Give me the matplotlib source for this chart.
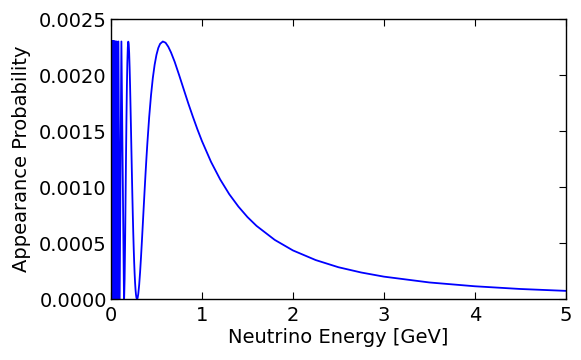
import matplotlib
matplotlib.use('Agg')
import matplotlib.pyplot as plt
from matplotlib.ticker import FormatStrFormatter

# fast oscillations near zero energy (peaks and zeros)
energy_low = [0.0146, 0.0151, 0.0153, 0.0159, 0.0162, 0.0169, 0.0172, 0.0179,
              0.0184, 0.0191, 0.0197, 0.0205, 0.0212, 0.0220, 0.0229, 0.0239,
              0.0249, 0.0260, 0.0273, 0.0286, 0.0302, 0.0318, 0.0337, 0.0358,
              0.0382, 0.0409, 0.0441, 0.0477, 0.0521, 0.0573, 0.0637, 0.0716,
              0.0819, 0.0955, 0.1146, 0.1432]
prob_low = [0.0023, 0.0, 0.0023, 0.0, 0.0023, 0.0, 0.0023, 0.0,
            0.0023, 0.0, 0.0023, 0.0, 0.0023, 0.0, 0.0023, 0.0,
            0.0023, 0.0, 0.0023, 0.0, 0.0023, 0.0, 0.0023, 0.0,
            0.0023, 0.0, 0.0023, 0.0, 0.0023, 0.0, 0.0023, 0.0,
            0.0023, 0.0, 0.0023, 0.0]

# second lobe
energy_mid = [0.145, 0.150, 0.155, 0.160, 0.165, 0.170, 0.175, 0.180, 0.185,
              0.190, 0.195, 0.200, 0.205, 0.210, 0.215, 0.220, 0.225, 0.230,
              0.235, 0.240, 0.245, 0.250, 0.255, 0.260, 0.265, 0.270, 0.275,
              0.280, 0.2865]
prob_mid = [0.0000134, 0.00018, 0.000484, 0.000861, 0.00125, 0.00160, 0.00190,
            0.00211, 0.002247, 0.0022986, 0.002278, 0.002198, 0.002069,
            0.001906, 0.001718, 0.00152, 0.001317, 0.001118, 0.000928,
            0.000751, 0.000592, 0.00045, 0.000329, 0.000228, 0.000146,
            0.0000835, 0.0000393, 0.0000121, 0.0]

# main peak and tail
energy_high = [0.293, 0.30, 0.31, 0.32, 0.33, 0.34, 0.35, 0.36, 0.37, 0.38,
               0.39, 0.40, 0.42, 0.44, 0.46, 0.48, 0.50, 0.52, 0.54, 0.57,
               0.60, 0.63, 0.66, 0.70, 0.75, 0.80, 0.85, 0.90, 0.95, 1.00,
               1.10, 1.20, 1.30, 1.40, 1.50, 1.60, 1.80, 2.00, 2.25, 2.50,
               2.75, 3.00, 3.50, 4.00, 4.50, 5.00]
prob_high = [0.0000112, 0.0000458, 0.000128, 0.00024, 0.000373, 0.000518,
             0.00067, 0.000824, 0.000975, 0.001122, 0.001262, 0.001392,
             0.001626, 0.001819, 0.001974, 0.002093, 0.002181, 0.002242,
             0.002279, 0.0023, 0.002289, 0.002253, 0.002202, 0.002119,
             0.001998, 0.001872, 0.001747, 0.001629, 0.001516, 0.001411,
             0.001225, 0.001069, 0.000937, 0.000827, 0.000733, 0.000654,
             0.000529, 0.000435, 0.000349, 0.000285, 0.000238, 0.000201,
             0.000149, 0.000115, 0.0000908, 0.000074]

energy = energy_low + energy_mid + energy_high
prob = prob_low + prob_mid + prob_high

fig = plt.figure(figsize=(5.81, 3.6), dpi=100)
ax = fig.add_axes([0.191, 0.169, 0.783, 0.778])

ax.plot(energy, prob, color='#0000ff', linewidth=1.3)

ax.set_xlim(0, 5)
ax.set_ylim(0, 0.0025)
ax.set_xticks([0, 1, 2, 3, 4, 5])
ax.set_yticks([0.0, 0.0005, 0.0010, 0.0015, 0.0020, 0.0025])
ax.yaxis.set_major_formatter(FormatStrFormatter('%.4f'))
ax.tick_params(direction='in', top=True, right=True, length=5, width=0.8,
               labelsize=14)
ax.tick_params(axis='y', pad=3)
ax.tick_params(axis='x', pad=5)
for sp in ax.spines.values():
    sp.set_linewidth(1.0)

ax.set_xlabel('Neutrino Energy [GeV]', fontsize=14, labelpad=2)
ax.set_ylabel('Appearance Probability', fontsize=14, labelpad=6)

fig.savefig('out.png', dpi=100)
